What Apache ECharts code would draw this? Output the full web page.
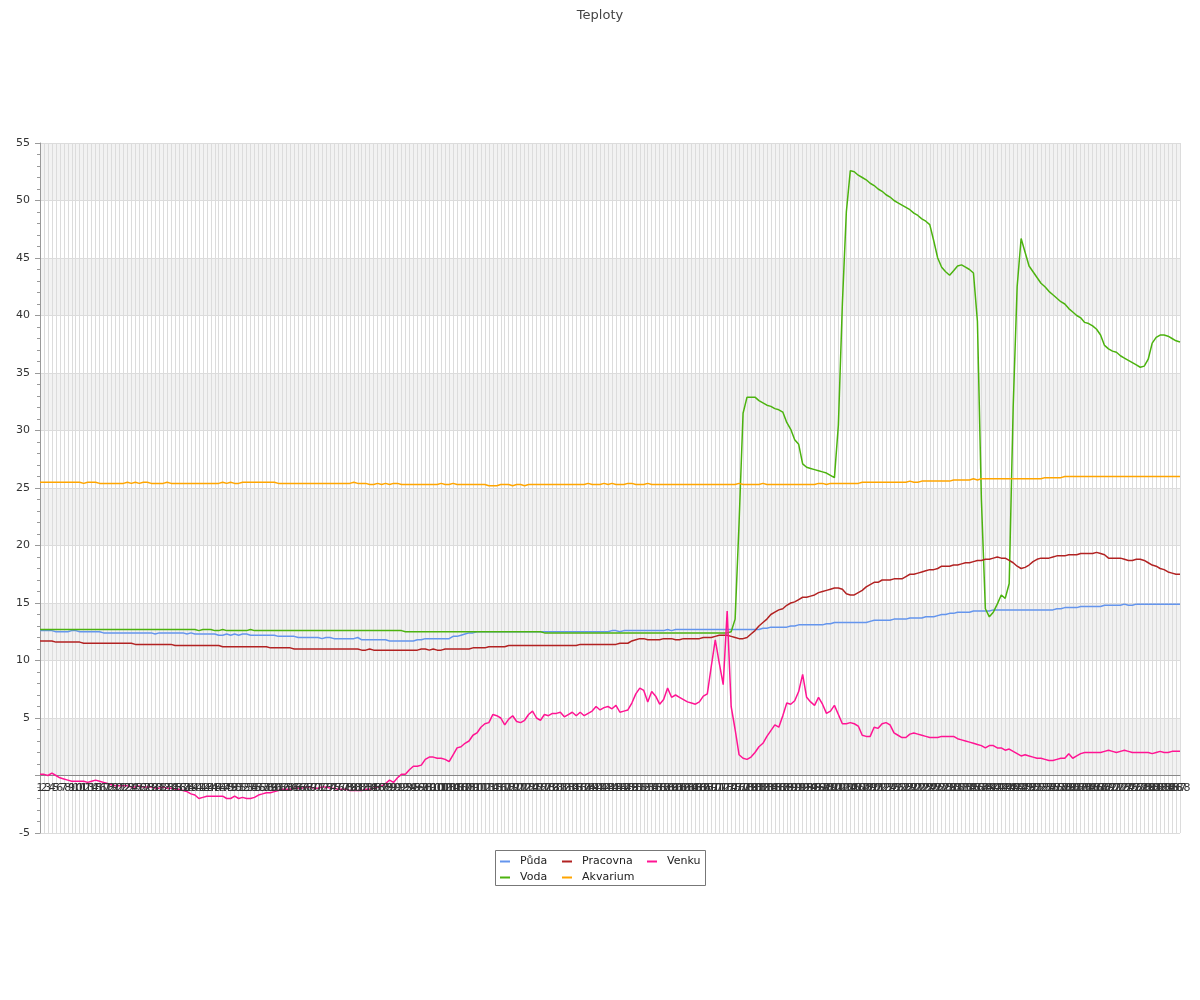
<!DOCTYPE html>
<html>
<head>
<meta charset="utf-8">
<script src="https://cdn.jsdelivr.net/npm/echarts@6/dist/echarts.min.js"></script>
<style>html,body{margin:0;padding:0;background:#fff;}#c{width:1200px;height:1000px;}</style>
</head>
<body>
<div id="c"></div>
<script>
const titleText = 'Teploty';
const seriesNames = ['Půda', 'Voda', 'Pracovna', 'Akvarium', 'Venku'];
const categories = [
1,2,3,4,5,6,7,8,9,10,11,12,13,14,15,16,17,18,19,20,21,22,23,24,
25,26,27,28,29,30,31,32,33,34,35,36,37,38,39,40,41,42,43,44,45,46,47,48,
49,50,51,52,53,54,55,56,57,58,59,60,61,62,63,64,65,66,67,68,69,70,71,72,
73,74,75,76,77,78,79,80,81,82,83,84,85,86,87,88,89,90,91,92,93,94,95,96,
97,98,99,100,101,102,103,104,105,106,107,108,109,110,111,112,113,114,115,116,117,118,119,120,
121,122,123,124,125,126,127,128,129,130,131,132,133,134,135,136,137,138,139,140,141,142,143,144,
145,146,147,148,149,150,151,152,153,154,155,156,157,158,159,160,161,162,163,164,165,166,167,168,
169,170,171,172,173,174,175,176,177,178,179,180,181,182,183,184,185,186,187,188,189,190,191,192,
193,194,195,196,197,198,199,200,201,202,203,204,205,206,207,208,209,210,211,212,213,214,215,216,
217,218,219,220,221,222,223,224,225,226,227,228,229,230,231,232,233,234,235,236,237,238,239,240,
241,242,243,244,245,246,247,248,249,250,251,252,253,254,255,256,257,258,259,260,261,262,263,264,
265,266,267,268,269,270,271,272,273,274,275,276,277,278,279,280,281,282,283,284,285,286,287,288
];
const puda = [
12.6,12.6,12.6,12.6,12.5,12.5,12.5,12.5,12.6,12.6,12.5,12.5,
12.5,12.5,12.5,12.5,12.4,12.4,12.4,12.4,12.4,12.4,12.4,12.4,
12.4,12.4,12.4,12.4,12.4,12.3,12.4,12.4,12.4,12.4,12.4,12.4,
12.4,12.3,12.4,12.3,12.3,12.3,12.3,12.3,12.3,12.2,12.2,12.3,
12.2,12.3,12.2,12.3,12.3,12.2,12.2,12.2,12.2,12.2,12.2,12.2,
12.1,12.1,12.1,12.1,12.1,12.0,12.0,12.0,12.0,12.0,12.0,11.9,
12.0,12.0,11.9,11.9,11.9,11.9,11.9,11.9,12.0,11.8,11.8,11.8,
11.8,11.8,11.8,11.8,11.7,11.7,11.7,11.7,11.7,11.7,11.7,11.8,
11.8,11.9,11.9,11.9,11.9,11.9,11.9,11.9,12.1,12.1,12.2,12.3,
12.4,12.4,12.5,12.5,12.5,12.5,12.5,12.5,12.5,12.5,12.5,12.5,
12.5,12.5,12.5,12.5,12.5,12.5,12.5,12.5,12.5,12.5,12.5,12.5,
12.5,12.5,12.5,12.5,12.5,12.5,12.5,12.5,12.5,12.5,12.5,12.5,
12.6,12.6,12.5,12.6,12.6,12.6,12.6,12.6,12.6,12.6,12.6,12.6,
12.6,12.6,12.7,12.6,12.7,12.7,12.7,12.7,12.7,12.7,12.7,12.7,
12.7,12.7,12.7,12.7,12.7,12.7,12.7,12.7,12.7,12.7,12.7,12.7,
12.7,12.7,12.8,12.8,12.9,12.9,12.9,12.9,12.9,13.0,13.0,13.1,
13.1,13.1,13.1,13.1,13.1,13.1,13.2,13.2,13.3,13.3,13.3,13.3,
13.3,13.3,13.3,13.3,13.3,13.4,13.5,13.5,13.5,13.5,13.5,13.6,
13.6,13.6,13.6,13.7,13.7,13.7,13.7,13.8,13.8,13.8,13.9,14.0,
14.0,14.1,14.1,14.2,14.2,14.2,14.2,14.3,14.3,14.3,14.3,14.3,
14.4,14.4,14.4,14.4,14.4,14.4,14.4,14.4,14.4,14.4,14.4,14.4,
14.4,14.4,14.4,14.4,14.5,14.5,14.6,14.6,14.6,14.6,14.7,14.7,
14.7,14.7,14.7,14.7,14.8,14.8,14.8,14.8,14.8,14.9,14.8,14.8,
14.9,14.9,14.9,14.9,14.9,14.9,14.9,14.9,14.9,14.9,14.9,14.9
];
const voda = [
12.7,12.7,12.7,12.7,12.7,12.7,12.7,12.7,12.7,12.7,12.7,12.7,
12.7,12.7,12.7,12.7,12.7,12.7,12.7,12.7,12.7,12.7,12.7,12.7,
12.7,12.7,12.7,12.7,12.7,12.7,12.7,12.7,12.7,12.7,12.7,12.7,
12.7,12.7,12.7,12.7,12.6,12.7,12.7,12.7,12.6,12.6,12.7,12.6,
12.6,12.6,12.6,12.6,12.6,12.7,12.6,12.6,12.6,12.6,12.6,12.6,
12.6,12.6,12.6,12.6,12.6,12.6,12.6,12.6,12.6,12.6,12.6,12.6,
12.6,12.6,12.6,12.6,12.6,12.6,12.6,12.6,12.6,12.6,12.6,12.6,
12.6,12.6,12.6,12.6,12.6,12.6,12.6,12.6,12.5,12.5,12.5,12.5,
12.5,12.5,12.5,12.5,12.5,12.5,12.5,12.5,12.5,12.5,12.5,12.5,
12.5,12.5,12.5,12.5,12.5,12.5,12.5,12.5,12.5,12.5,12.5,12.5,
12.5,12.5,12.5,12.5,12.5,12.5,12.5,12.4,12.4,12.4,12.4,12.4,
12.4,12.4,12.4,12.4,12.4,12.4,12.4,12.4,12.4,12.4,12.4,12.4,
12.4,12.4,12.4,12.4,12.4,12.4,12.4,12.4,12.4,12.4,12.4,12.4,
12.4,12.4,12.4,12.4,12.4,12.4,12.4,12.4,12.4,12.4,12.4,12.4,
12.4,12.4,12.4,12.4,12.4,12.4,12.5,13.6,22.0,31.5,32.9,32.9,
32.9,32.6,32.4,32.2,32.1,31.9,31.8,31.6,30.7,30.1,29.2,28.8,
27.1,26.8,26.7,26.6,26.5,26.4,26.3,26.1,25.9,30.5,41.0,49.0,
52.6,52.5,52.2,52.0,51.8,51.5,51.3,51.0,50.8,50.5,50.3,50.0,
49.8,49.6,49.4,49.2,48.9,48.7,48.4,48.2,47.9,46.5,45.0,44.2,
43.8,43.5,43.9,44.3,44.4,44.2,44.0,43.7,39.5,24.0,14.5,13.8,
14.2,14.9,15.7,15.4,16.7,32.0,42.5,46.7,45.5,44.3,43.8,43.3,
42.8,42.5,42.1,41.8,41.5,41.2,41.0,40.6,40.3,40.0,39.8,39.4,
39.3,39.1,38.8,38.3,37.4,37.1,36.9,36.8,36.5,36.3,36.1,35.9,
35.7,35.5,35.6,36.2,37.6,38.1,38.3,38.3,38.2,38.0,37.8,37.7
];
const pracovna = [
11.7,11.7,11.7,11.7,11.6,11.6,11.6,11.6,11.6,11.6,11.6,11.5,
11.5,11.5,11.5,11.5,11.5,11.5,11.5,11.5,11.5,11.5,11.5,11.5,
11.4,11.4,11.4,11.4,11.4,11.4,11.4,11.4,11.4,11.4,11.3,11.3,
11.3,11.3,11.3,11.3,11.3,11.3,11.3,11.3,11.3,11.3,11.2,11.2,
11.2,11.2,11.2,11.2,11.2,11.2,11.2,11.2,11.2,11.2,11.1,11.1,
11.1,11.1,11.1,11.1,11.0,11.0,11.0,11.0,11.0,11.0,11.0,11.0,
11.0,11.0,11.0,11.0,11.0,11.0,11.0,11.0,11.0,10.9,10.9,11.0,
10.9,10.9,10.9,10.9,10.9,10.9,10.9,10.9,10.9,10.9,10.9,10.9,
11.0,11.0,10.9,11.0,10.9,10.9,11.0,11.0,11.0,11.0,11.0,11.0,
11.0,11.1,11.1,11.1,11.1,11.2,11.2,11.2,11.2,11.2,11.3,11.3,
11.3,11.3,11.3,11.3,11.3,11.3,11.3,11.3,11.3,11.3,11.3,11.3,
11.3,11.3,11.3,11.3,11.4,11.4,11.4,11.4,11.4,11.4,11.4,11.4,
11.4,11.4,11.5,11.5,11.5,11.7,11.8,11.9,11.9,11.8,11.8,11.8,
11.8,11.9,11.9,11.9,11.8,11.8,11.9,11.9,11.9,11.9,11.9,12.0,
12.0,12.0,12.1,12.2,12.2,12.2,12.1,12.0,11.9,11.9,12.0,12.3,
12.6,13.0,13.3,13.6,14.0,14.2,14.4,14.5,14.8,15.0,15.1,15.3,
15.5,15.5,15.6,15.7,15.9,16.0,16.1,16.2,16.3,16.3,16.2,15.8,
15.7,15.7,15.9,16.1,16.4,16.6,16.8,16.8,17.0,17.0,17.0,17.1,
17.1,17.1,17.3,17.5,17.5,17.6,17.7,17.8,17.9,17.9,18.0,18.2,
18.2,18.2,18.3,18.3,18.4,18.5,18.5,18.6,18.7,18.7,18.8,18.8,
18.9,19.0,18.9,18.9,18.7,18.5,18.2,18.0,18.1,18.3,18.6,18.8,
18.9,18.9,18.9,19.0,19.1,19.1,19.1,19.2,19.2,19.2,19.3,19.3,
19.3,19.3,19.4,19.3,19.2,18.9,18.9,18.9,18.9,18.8,18.7,18.7,
18.8,18.8,18.7,18.5,18.3,18.2,18.0,17.9,17.7,17.6,17.5,17.5
];
const akvarium = [
25.5,25.5,25.5,25.5,25.5,25.5,25.5,25.5,25.5,25.5,25.5,25.4,
25.5,25.5,25.5,25.4,25.4,25.4,25.4,25.4,25.4,25.4,25.5,25.4,
25.5,25.4,25.5,25.5,25.4,25.4,25.4,25.4,25.5,25.4,25.4,25.4,
25.4,25.4,25.4,25.4,25.4,25.4,25.4,25.4,25.4,25.4,25.5,25.4,
25.5,25.4,25.4,25.5,25.5,25.5,25.5,25.5,25.5,25.5,25.5,25.5,
25.4,25.4,25.4,25.4,25.4,25.4,25.4,25.4,25.4,25.4,25.4,25.4,
25.4,25.4,25.4,25.4,25.4,25.4,25.4,25.5,25.4,25.4,25.4,25.3,
25.3,25.4,25.3,25.4,25.3,25.4,25.4,25.3,25.3,25.3,25.3,25.3,
25.3,25.3,25.3,25.3,25.3,25.4,25.3,25.3,25.4,25.3,25.3,25.3,
25.3,25.3,25.3,25.3,25.3,25.2,25.2,25.2,25.3,25.3,25.3,25.2,
25.3,25.3,25.2,25.3,25.3,25.3,25.3,25.3,25.3,25.3,25.3,25.3,
25.3,25.3,25.3,25.3,25.3,25.3,25.4,25.3,25.3,25.3,25.4,25.3,
25.4,25.3,25.3,25.3,25.4,25.4,25.3,25.3,25.3,25.4,25.3,25.3,
25.3,25.3,25.3,25.3,25.3,25.3,25.3,25.3,25.3,25.3,25.3,25.3,
25.3,25.3,25.3,25.3,25.3,25.3,25.3,25.3,25.4,25.3,25.3,25.3,
25.3,25.3,25.4,25.3,25.3,25.3,25.3,25.3,25.3,25.3,25.3,25.3,
25.3,25.3,25.3,25.3,25.4,25.4,25.3,25.4,25.4,25.4,25.4,25.4,
25.4,25.4,25.4,25.5,25.5,25.5,25.5,25.5,25.5,25.5,25.5,25.5,
25.5,25.5,25.5,25.6,25.5,25.5,25.6,25.6,25.6,25.6,25.6,25.6,
25.6,25.6,25.7,25.7,25.7,25.7,25.7,25.8,25.7,25.8,25.8,25.8,
25.8,25.8,25.8,25.8,25.8,25.8,25.8,25.8,25.8,25.8,25.8,25.8,
25.8,25.9,25.9,25.9,25.9,25.9,26.0,26.0,26.0,26.0,26.0,26.0,
26.0,26.0,26.0,26.0,26.0,26.0,26.0,26.0,26.0,26.0,26.0,26.0,
26.0,26.0,26.0,26.0,26.0,26.0,26.0,26.0,26.0,26.0,26.0,26.0
];
const venku = [
0.1,0.1,0.0,0.2,0.0,-0.2,-0.3,-0.4,-0.5,-0.5,-0.5,-0.5,
-0.6,-0.5,-0.4,-0.5,-0.6,-0.7,-0.8,-0.9,-0.9,-0.9,-0.9,-1.0,
-1.0,-0.9,-1.0,-1.0,-1.0,-1.1,-1.1,-1.0,-1.1,-1.1,-1.2,-1.2,
-1.3,-1.4,-1.6,-1.7,-2.0,-1.9,-1.8,-1.8,-1.8,-1.8,-1.8,-2.0,
-2.0,-1.8,-2.0,-1.9,-2.0,-2.0,-1.9,-1.7,-1.6,-1.5,-1.5,-1.4,
-1.3,-1.2,-1.2,-1.2,-1.1,-1.1,-1.1,-1.0,-1.0,-1.1,-1.1,-1.0,
-1.0,-1.1,-1.1,-1.2,-1.2,-1.2,-1.3,-1.3,-1.3,-1.3,-1.2,-1.2,
-1.1,-1.0,-0.9,-0.7,-0.4,-0.6,-0.2,0.1,0.1,0.5,0.8,0.8,
0.9,1.4,1.6,1.6,1.5,1.5,1.4,1.2,1.8,2.4,2.5,2.8,
3.0,3.5,3.7,4.2,4.5,4.6,5.3,5.2,5.0,4.4,4.9,5.2,
4.7,4.6,4.8,5.3,5.6,5.0,4.8,5.3,5.2,5.4,5.4,5.5,
5.1,5.3,5.5,5.2,5.5,5.2,5.4,5.6,6.0,5.7,5.9,6.0,
5.8,6.1,5.5,5.6,5.7,6.3,7.1,7.6,7.4,6.4,7.3,6.9,
6.2,6.6,7.6,6.8,7.0,6.8,6.6,6.4,6.3,6.2,6.4,6.9,
7.1,9.5,11.8,9.8,7.9,14.3,6.0,4.0,1.8,1.5,1.4,1.6,
2.0,2.5,2.8,3.4,3.9,4.4,4.2,5.2,6.3,6.2,6.5,7.3,
8.8,6.8,6.4,6.1,6.8,6.2,5.4,5.6,6.1,5.3,4.5,4.5,
4.6,4.5,4.3,3.5,3.4,3.4,4.2,4.1,4.5,4.6,4.4,3.7,
3.5,3.3,3.3,3.6,3.7,3.6,3.5,3.4,3.3,3.3,3.3,3.4,
3.4,3.4,3.4,3.2,3.1,3.0,2.9,2.8,2.7,2.6,2.4,2.6,
2.6,2.4,2.4,2.2,2.3,2.1,1.9,1.7,1.8,1.7,1.6,1.5,
1.5,1.4,1.3,1.3,1.4,1.5,1.5,1.9,1.5,1.7,1.9,2.0,
2.0,2.0,2.0,2.0,2.1,2.2,2.1,2.0,2.1,2.2,2.1,2.0,
2.0,2.0,2.0,2.0,1.9,2.0,2.1,2.0,2.0,2.1,2.1,2.1
];
const seriesColors = ['#6495ED', '#4CB30F', '#B22222', '#FFA500', '#FF1493'];
const seriesData = [puda, voda, pracovna, akvarium, venku];

const FONT = 'DejaVu Sans';
const chart = echarts.init(document.getElementById('c'), null, {renderer: 'canvas'});

function legendCol(left, names) {
  return {
    orient: 'vertical', left: left, top: 856,
    data: names,
    icon: 'rect', itemWidth: 10, itemHeight: 2, itemGap: 5,
    padding: 0,
    textStyle: {fontFamily: FONT, fontSize: 11, color: '#222', padding: [0, 0, 0, 5]},
    selectedMode: false
  };
}

chart.setOption({
  animation: false,
  backgroundColor: '#ffffff',
  title: {
    text: titleText, left: 'center', top: 4,
    textStyle: {fontFamily: FONT, fontSize: 13, fontWeight: 'normal', color: '#444'}
  },
  legend: [
    legendCol(500, [seriesNames[0], seriesNames[1]]),
    legendCol(562, [seriesNames[2], seriesNames[3]]),
    legendCol(647, [seriesNames[4]])
  ],
  graphic: [{
    type: 'rect', left: 495, top: 850, z: -1,
    shape: {width: 210, height: 35},
    style: {fill: '#fff', stroke: '#777', lineWidth: 1}
  }],
  grid: {left: 40, right: 20, top: 143, bottom: 167, containLabel: false},
  xAxis: [{
    type: 'category', data: categories, boundaryGap: false,
    position: 'bottom', offset: -58,
    axisLine: {show: true, onZero: false, lineStyle: {color: '#888'}},
    axisTick: {show: false},
    axisLabel: {show: false},
    splitLine: {show: true, interval: 0, lineStyle: {color: '#dcdcdc', width: 1}}
  }, {
    type: 'category', data: categories, boundaryGap: false,
    position: 'bottom', offset: -58, z: 5,
    axisLine: {show: false, onZero: false},
    axisTick: {show: false},
    axisLabel: {interval: 0, fontFamily: FONT, fontSize: 11, color: '#333', margin: 8},
    splitLine: {show: false}
  }],
  yAxis: {
    type: 'value', min: -5, max: 55, interval: 5,
    axisLine: {show: true, lineStyle: {color: '#999'}},
    axisTick: {show: true, length: 5, lineStyle: {color: '#999'}},
    minorTick: {show: true, splitNumber: 5, length: 3, lineStyle: {color: '#999'}},
    axisLabel: {
      fontFamily: FONT, fontSize: 11, color: '#333', margin: 10,
      formatter: function (v) { return v === 0 ? '' : String(v); }
    },
    splitLine: {show: true, lineStyle: {color: '#dcdcdc'}},
    splitArea: {show: true, areaStyle: {color: ['#ffffff', '#f2f2f2']}}
  },
  series: seriesNames.map(function (n, k) {
    return {
      name: n, type: 'line', data: seriesData[k], xAxisIndex: 0,
      showSymbol: false, symbol: 'none',
      lineStyle: {color: seriesColors[k], width: 1.5},
      itemStyle: {color: seriesColors[k]},
      emphasis: {disabled: true}
    };
  })
});
</script>
</body>
</html>
